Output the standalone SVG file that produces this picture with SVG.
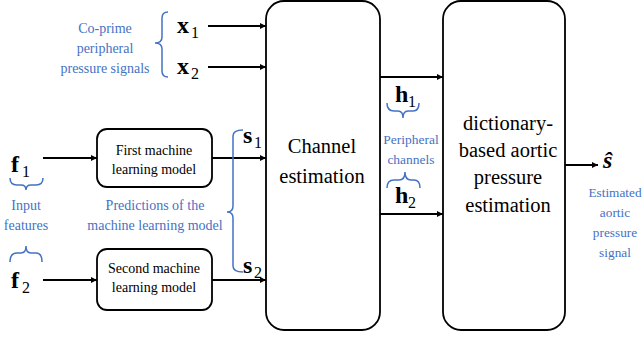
<svg xmlns="http://www.w3.org/2000/svg" width="644" height="339" viewBox="0 0 644 339" font-family="Liberation Serif, Times New Roman, serif">
<defs>
<marker id="ah" viewBox="0 0 10 10" refX="10" refY="5" markerWidth="6" markerHeight="6" markerUnits="userSpaceOnUse" orient="auto"><path d="M0,0 L10,5 L0,10 z" fill="#000"/></marker>
<style>
.box{fill:#fff;stroke:#000;stroke-width:1.8}
.ln{fill:none;stroke:#000;stroke-width:1.8;marker-end:url(#ah)}
.br{fill:none;stroke:#4472C4;stroke-width:1.5}
.t{fill:#000;text-anchor:middle}
.big{font-size:20.5px}
.sm{font-size:14px}
.bl{fill:#4472C4;text-anchor:middle;font-size:14px}
.m{fill:#000;font-weight:bold;font-size:24px}
.sub{fill:#000;font-size:16px}
</style>
</defs>
<rect width="644" height="339" fill="#fff"/>
<g id="connectors">
<line class="ln" x1="208" y1="26" x2="266" y2="26"/>
<line class="ln" x1="208" y1="67" x2="266" y2="67"/>
<line class="ln" x1="43" y1="158" x2="97" y2="158"/>
<line class="ln" x1="212" y1="158" x2="266" y2="158"/>
<line class="ln" x1="43" y1="280" x2="97" y2="280"/>
<line class="ln" x1="212" y1="280" x2="266" y2="280"/>
<line class="ln" x1="380" y1="77" x2="443" y2="77"/>
<line class="ln" x1="380" y1="214" x2="443" y2="214"/>
<line class="ln" x1="565" y1="165" x2="598" y2="165"/>
</g>
<g id="channel-estimation">
<rect class="box" x="266" y="1" width="114" height="329" rx="18"/>
<text class="t big" x="322" y="153">Channel</text>
<text class="t big" x="322" y="183">estimation</text>
</g>
<g id="dictionary-estimation">
<rect class="box" x="443" y="1" width="122" height="329" rx="18"/>
<text class="t big" x="508" y="130">dictionary-</text>
<text class="t big" x="508" y="157">based aortic</text>
<text class="t big" x="508" y="184">pressure</text>
<text class="t big" x="508" y="212">estimation</text>
</g>
<g id="first-ml-model">
<rect class="box" x="97" y="129" width="115" height="58" rx="10"/>
<text class="t sm" x="154" y="155">First machine</text>
<text class="t sm" x="154" y="174">learning model</text>
</g>
<g id="second-ml-model">
<rect class="box" x="97" y="249" width="115" height="61" rx="10"/>
<text class="t sm" x="154" y="273">Second machine</text>
<text class="t sm" x="154" y="292">learning model</text>
</g>
<g id="x-signals">
<path class="br" d="M168,12 Q162,12 162,18 L162,37 Q162,43 155,43 Q162,43 162,49 L162,71 Q162,77 168,77"/>
<text class="bl" x="105" y="33">Co-prime</text>
<text class="bl" x="105" y="53">peripheral</text>
<text class="bl" x="105" y="73">pressure signals</text>
<text class="m" x="177" y="33">x</text><text class="sub" x="191" y="38">1</text>
<text class="m" x="177" y="74">x</text><text class="sub" x="191" y="79">2</text>
</g>
<g id="input-features">
<text class="m" x="11" y="172">f</text><text class="sub" x="22" y="177">1</text>
<path class="br" d="M10,178 Q10,185 17,185 L21,185 Q26,185 26,190 Q26,185 31,185 L36,185 Q43,185 43,178"/>
<text class="bl" x="26" y="210">Input</text>
<text class="bl" x="26" y="230">features</text>
<path class="br" d="M10,262 Q10,253 17,253 L21,253 Q26,253 26,246 Q26,253 31,253 L36,253 Q42,253 42,262"/>
<text class="m" x="11" y="288">f</text><text class="sub" x="22" y="293">2</text>
</g>
<g id="predictions">
<path class="br" d="M243,130 Q233,130 233,136 L233,206 Q233,212 227,212 Q233,212 233,218 L233,266 Q233,272 243,272"/>
<text class="m" x="243" y="143">s</text><text class="sub" x="254" y="148">1</text>
<text class="m" x="243" y="273">s</text><text class="sub" x="254" y="278">2</text>
<text class="bl" x="155" y="210">Predictions of the</text>
<text class="bl" x="155" y="230">machine learning model</text>
</g>
<g id="peripheral-channels">
<text class="m" x="395" y="102">h</text><text class="sub" x="408" y="107">1</text>
<path class="br" d="M387,103 Q387,111 394,111 L398,111 Q403,111 403,118 Q403,111 408,111 L413,111 Q419,111 419,103"/>
<text class="bl" x="411" y="144" style="font-size:13.5px">Peripheral</text>
<text class="bl" x="411" y="164" style="font-size:13.5px">channels</text>
<path class="br" d="M387,188 Q387,180 394,180 L399,180 Q405,180 405,172 Q405,180 411,180 L414,180 Q420,180 420,188"/>
<text class="m" x="395" y="203">h</text><text class="sub" x="408" y="208">2</text>
</g>
<g id="output">
<text class="m" x="603" y="168" style="font-style:italic">ŝ</text>
<text class="bl" x="615" y="197" style="font-size:13.3px">Estimated</text>
<text class="bl" x="615" y="217" style="font-size:13.3px">aortic</text>
<text class="bl" x="615" y="237" style="font-size:13.3px">pressure</text>
<text class="bl" x="615" y="257" style="font-size:13.3px">signal</text>
</g>
</svg>
